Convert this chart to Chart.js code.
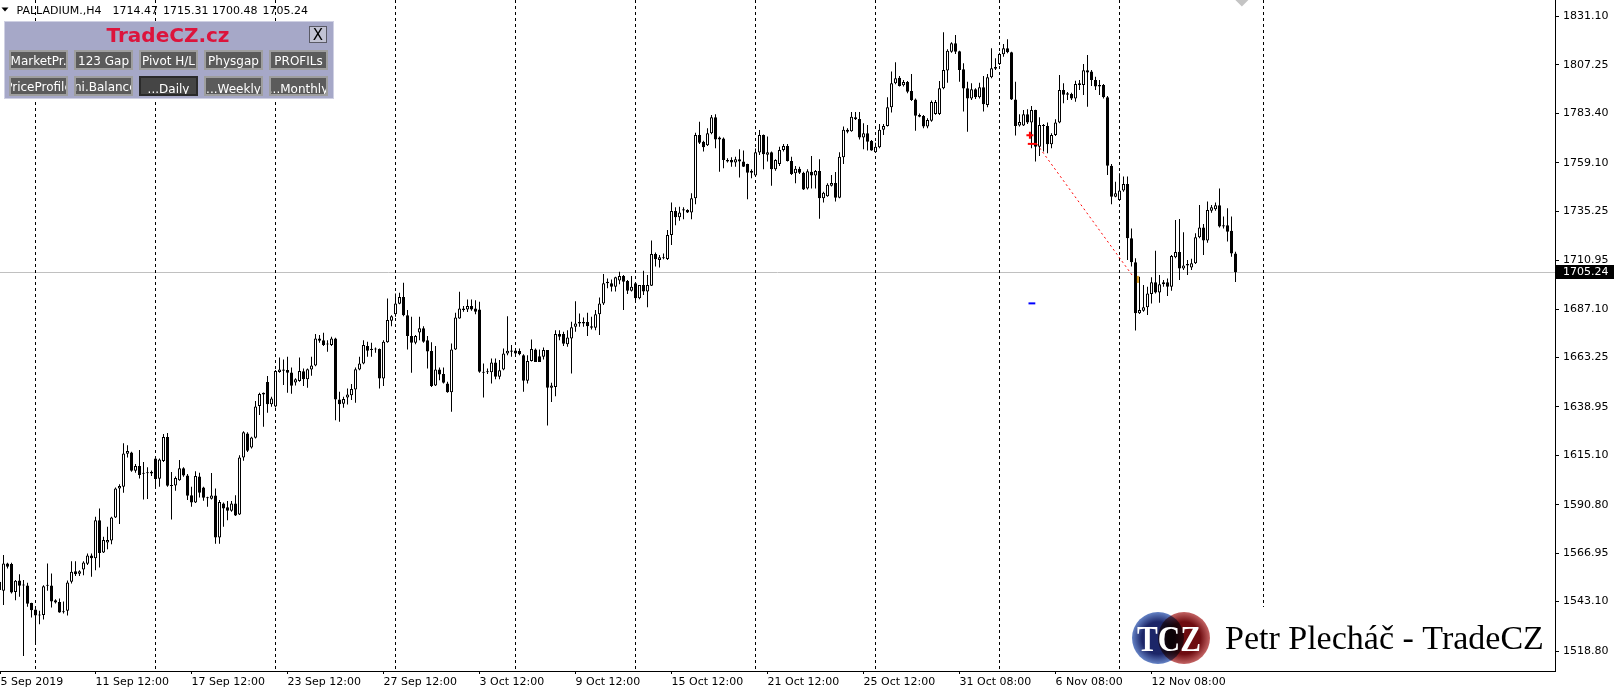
<!DOCTYPE html>
<html>
<head>
<meta charset="utf-8">
<script src="https://cdn.jsdelivr.net/npm/chart.js@4"></script>
<style>
  html, body { margin: 0; padding: 0; background: #fff; overflow: hidden; }
  canvas { display: block; }
</style>
</head>
<body>
<canvas id="chart" width="1616" height="691"></canvas>
<script>
// PALLADIUM H4, one value per bar (bar 0 = 5 Sep 2019 12:00)
const opens = [
  1552.9,1548.4,1561.9,1561.6,1547.9,1553.5,1551.2,1551.1,1542.4,1539.2,
  1536.3,1536.5,1550.9,1551.1,1543.8,1542.9,1537.9,1538.6,1552.9,1558.0,
  1556.8,1558.9,1561.7,1565.8,1564.4,1583.2,1567.3,1572.2,1573.2,1584.5,
  1598.8,1599.6,1615.9,1616.5,1607.5,1609.8,1606.0,1606.4,1606.2,1613.6,
  1603.6,1612.3,1624.1,1600.3,1600.3,1602.8,1608.7,1605.2,1595.5,1591.9,
  1604.7,1599.3,1594.2,1593.7,1595.4,1574.7,1591.4,1589.6,1587.8,1591.4,
  1586.0,1614.1,1625.9,1619.0,1623.8,1639.4,1645.9,1651.2,1640.2,1639.2,
  1656.1,1657.4,1657.1,1655.9,1651.0,1651.7,1656.5,1652.6,1657.4,1659.3,
  1672.6,1671.8,1669.6,1669.4,1672.6,1642.6,1640.5,1643.6,1644.7,1647.5,
  1657.4,1660.3,1668.9,1667.0,1667.2,1667.4,1652.9,1670.8,1681.3,1684.5,
  1689.7,1693.1,1684.1,1673.8,1670.5,1675.6,1677.6,1671.7,1666.4,1649.5,
  1657.4,1655.1,1650.5,1646.1,1667.2,1682.5,1687.4,1686.9,1688.6,1687.4,
  1686.9,1656.2,1656.0,1656.0,1660.8,1653.8,1657.4,1665.2,1666.1,1666.7,
  1666.4,1664.4,1651.8,1661.5,1667.2,1663.9,1663.6,1666.9,1648.4,1648.8,
  1674.8,1674.8,1669.8,1672.6,1678.4,1680.0,1680.7,1680.7,1678.7,1677.9,
  1684.5,1689.9,1699.8,1699.8,1698.1,1701.2,1703.4,1700.9,1696.1,1699.8,
  1692.4,1698.9,1695.7,1698.6,1714.2,1711.2,1712.6,1711.8,1723.6,1735.4,
  1732.3,1735.6,1735.9,1734.6,1741.6,1772.8,1769.5,1767.7,1773.6,1781.5,
  1771.6,1771.1,1760.5,1760.5,1759.2,1760.8,1759.7,1758.5,1755.2,1752.9,
  1764.1,1772.8,1763.1,1764.3,1755.9,1758.5,1765.4,1767.4,1760.0,1753.9,
  1756.2,1754.2,1746.5,1754.7,1752.8,1755.1,1741.6,1742.6,1747.8,1749.2,
  1741.9,1761.8,1774.4,1774.6,1781.5,1780.7,1771.6,1773.6,1769.8,1764.3,
  1766.7,1775.3,1777.2,1786.4,1798.2,1801.0,1797.2,1798.9,1794.4,1790.3,
  1782.6,1782.1,1776.9,1779.8,1783.1,1783.1,1795.8,1804.5,1813.8,1817.9,
  1814.0,1805.1,1795.8,1790.7,1795.3,1791.3,1796.3,1787.6,1801.2,1805.4,
  1807.7,1812.5,1815.5,1813.5,1790.3,1777.4,1777.5,1783.0,1778.9,1785.1,
  1767.0,1777.7,1777.2,1768.2,1772.8,1778.9,1794.9,1793.3,1793.0,1790.7,
  1797.4,1797.4,1804.6,1804.0,1799.9,1797.4,1797.4,1791.3,1757.7,1742.4,
  1740.8,1745.4,1748.7,1721.9,1710.1,1685.0,1686.3,1688.0,1694.5,1700.3,
  1695.2,1699.3,1700.3,1698.1,1712.6,1715.2,1707.1,1708.5,1707.6,1709.6,
  1722.4,1727.3,1720.8,1735.5,1736.2,1738.2,1728.3,1728.3,1725.7,1714.47
];
const highs = [
  1553.7,1566.0,1562.2,1562.2,1553.7,1556.6,1553.7,1552.4,1542.6,1539.4,
  1538.6,1551.2,1561.9,1557.0,1544.3,1544.7,1543.2,1553.5,1563.0,1563.0,
  1558.6,1563.0,1566.8,1566.8,1584.9,1589.0,1575.0,1579.9,1584.9,1599.3,
  1600.9,1621.0,1620.1,1616.9,1610.8,1617.7,1611.8,1609.3,1607.7,1614.1,
  1613.6,1625.6,1626.1,1606.9,1604.7,1612.8,1609.3,1605.9,1599.6,1607.3,
  1606.5,1599.6,1594.7,1606.4,1598.8,1593.1,1591.9,1592.6,1592.6,1595.5,
  1615.2,1627.0,1626.5,1624.2,1641.8,1645.9,1646.0,1654.1,1644.0,1657.1,
  1663.3,1662.3,1663.6,1658.4,1653.0,1663.3,1657.9,1657.9,1663.6,1674.8,
  1674.3,1675.4,1671.8,1673.5,1673.0,1646.4,1643.9,1648.0,1650.2,1658.4,
  1663.6,1671.8,1671.0,1670.5,1668.2,1667.7,1671.8,1692.3,1684.1,1694.8,
  1695.1,1700.0,1686.6,1683.3,1674.3,1683.3,1678.7,1673.8,1670.8,1668.9,
  1658.4,1658.4,1651.3,1670.2,1685.3,1695.6,1688.6,1691.8,1691.8,1691.5,
  1690.7,1660.3,1657.9,1662.8,1662.8,1662.0,1667.7,1683.6,1669.4,1667.7,
  1667.7,1664.9,1664.4,1672.1,1667.7,1667.2,1668.2,1667.0,1650.8,1676.7,
  1676.7,1675.9,1676.7,1680.8,1691.0,1684.9,1683.0,1685.3,1683.3,1686.6,
  1692.8,1704.4,1702.2,1701.7,1703.0,1705.5,1703.9,1701.4,1703.4,1699.9,
  1699.0,1706.0,1703.9,1720.8,1714.9,1713.7,1714.5,1726.0,1739.5,1737.2,
  1737.5,1737.2,1736.2,1744.1,1773.9,1779.3,1770.0,1776.1,1782.6,1783.0,
  1772.0,1771.5,1761.3,1761.8,1762.1,1765.7,1765.1,1758.6,1755.9,1766.1,
  1775.2,1773.0,1772.0,1764.6,1760.8,1767.0,1768.4,1768.4,1762.1,1757.5,
  1757.2,1754.7,1755.9,1762.4,1755.6,1760.8,1744.9,1749.0,1753.1,1754.6,
  1764.3,1776.9,1776.1,1784.1,1784.1,1784.1,1778.5,1777.7,1770.3,1769.0,
  1778.2,1778.2,1791.3,1804.0,1808.6,1801.8,1799.9,1799.4,1802.8,1790.8,
  1783.4,1782.6,1781.0,1789.7,1790.0,1799.4,1823.3,1815.0,1818.4,1822.0,
  1814.3,1808.1,1799.0,1798.2,1795.8,1798.5,1801.8,1802.8,1815.5,1810.5,
  1813.3,1817.6,1819.9,1813.8,1799.0,1783.0,1785.1,1785.4,1787.1,1785.2,
  1781.5,1778.2,1778.9,1773.6,1780.5,1802.3,1798.2,1793.9,1793.6,1799.5,
  1799.9,1807.7,1812.2,1804.8,1801.5,1799.9,1797.9,1792.0,1758.5,1749.8,
  1753.9,1752.3,1752.3,1726.8,1712.1,1703.0,1698.9,1698.1,1702.7,1715.8,
  1703.9,1701.4,1702.2,1713.7,1730.9,1731.4,1724.9,1711.2,1711.9,1724.4,
  1738.3,1729.0,1740.0,1738.3,1739.5,1746.5,1732.6,1736.7,1732.6,1715.31
];
const lows = [
  1541.4,1541.4,1559.4,1547.1,1543.8,1545.5,1516.3,1540.6,1535.3,1522.5,
  1532.0,1534.3,1548.4,1540.2,1542.2,1537.6,1537.3,1536.3,1552.0,1555.7,
  1555.7,1556.1,1561.1,1555.3,1558.6,1559.9,1567.0,1568.9,1571.4,1584.3,
  1581.3,1596.7,1614.1,1607.0,1606.5,1603.7,1593.4,1593.6,1604.9,1598.8,
  1599.6,1611.8,1599.6,1583.5,1597.7,1602.6,1604.6,1593.1,1589.8,1591.7,
  1594.4,1592.7,1589.8,1593.4,1571.6,1571.6,1579.9,1583.2,1587.3,1585.3,
  1585.8,1612.4,1616.7,1618.5,1623.4,1634.9,1629.2,1636.1,1639.0,1638.7,
  1655.8,1649.7,1645.9,1645.4,1649.5,1651.3,1649.2,1648.4,1654.3,1659.0,
  1670.5,1668.9,1666.1,1668.9,1632.4,1631.6,1638.5,1640.1,1642.3,1641.0,
  1657.0,1660.0,1663.6,1663.6,1665.6,1648.0,1649.2,1670.5,1678.7,1683.3,
  1689.5,1683.6,1667.2,1655.7,1669.8,1671.8,1670.5,1657.9,1648.8,1649.2,
  1652.1,1650.5,1645.9,1636.5,1666.9,1682.3,1685.8,1685.6,1686.3,1684.6,
  1655.7,1643.6,1655.1,1650.5,1652.5,1652.5,1657.0,1664.4,1663.6,1664.1,
  1664.4,1646.4,1650.5,1661.3,1661.0,1661.0,1662.3,1629.8,1641.3,1644.2,
  1671.8,1668.9,1668.5,1655.4,1675.9,1678.4,1678.4,1673.8,1677.1,1676.7,
  1674.3,1689.1,1697.3,1695.7,1695.7,1699.3,1686.6,1694.5,1695.7,1690.7,
  1691.9,1694.0,1688.0,1698.4,1708.0,1707.6,1711.6,1711.2,1718.6,1728.3,
  1730.6,1731.3,1734.4,1731.3,1738.7,1768.4,1764.7,1767.4,1773.1,1766.2,
  1754.7,1756.4,1759.2,1757.2,1757.2,1751.9,1757.0,1741.1,1751.5,1752.8,
  1762.9,1755.9,1759.7,1747.8,1755.2,1757.5,1764.6,1759.7,1753.1,1749.0,
  1753.6,1745.7,1746.0,1746.5,1746.5,1731.6,1739.5,1742.4,1747.4,1740.0,
  1741.6,1758.5,1773.6,1774.4,1780.2,1770.6,1765.7,1765.1,1765.0,1764.1,
  1766.2,1772.8,1776.9,1783.8,1797.7,1796.6,1796.6,1793.3,1789.5,1774.9,
  1781.5,1776.1,1776.1,1779.3,1782.8,1782.6,1795.3,1798.5,1813.3,1812.7,
  1799.0,1784.3,1774.4,1790.0,1790.5,1790.8,1784.3,1786.4,1800.7,1804.8,
  1807.2,1811.3,1813.0,1790.0,1772.5,1776.9,1777.2,1778.2,1766.2,1759.7,
  1762.4,1764.6,1763.8,1766.2,1772.3,1778.5,1788.4,1790.0,1790.0,1789.2,
  1794.9,1792.5,1786.7,1796.9,1794.9,1792.5,1790.7,1753.1,1738.7,1742.1,
  1740.5,1744.9,1711.2,1708.0,1676.5,1684.7,1685.8,1684.2,1689.9,1694.8,
  1690.2,1698.1,1693.5,1696.1,1712.1,1701.4,1706.3,1703.9,1706.3,1709.3,
  1721.9,1713.7,1719.8,1734.5,1735.5,1727.3,1726.8,1720.3,1712.9,1700.48
];
const closes = [
  1548.8,1561.9,1560.3,1547.6,1553.4,1550.9,1551.0,1542.0,1538.9,1536.3,
  1536.6,1550.7,1551.2,1543.2,1542.7,1537.8,1538.1,1552.5,1557.8,1556.6,
  1558.0,1562.4,1565.8,1564.5,1583.2,1567.1,1573.4,1573.4,1584.5,1598.8,
  1600.0,1616.0,1617.2,1607.5,1609.8,1605.4,1606.1,1606.3,1607.0,1603.4,
  1613.1,1624.1,1600.1,1600.0,1603.9,1608.7,1605.2,1595.2,1591.9,1604.9,
  1596.7,1594.2,1594.0,1595.4,1574.7,1592.1,1589.0,1587.8,1591.4,1585.5,
  1614.1,1626.5,1617.4,1623.9,1639.2,1645.3,1645.1,1640.2,1643.1,1656.6,
  1657.4,1656.8,1655.8,1649.4,1652.5,1656.6,1652.5,1657.5,1659.3,1672.6,
  1671.5,1669.4,1669.7,1672.6,1642.6,1640.3,1642.8,1645.1,1647.7,1657.5,
  1660.3,1669.4,1666.6,1667.6,1667.3,1652.9,1671.0,1681.7,1683.6,1689.9,
  1693.1,1684.1,1673.9,1670.5,1673.8,1677.6,1671.0,1666.2,1649.2,1657.4,
  1654.9,1650.8,1646.1,1667.2,1683.0,1687.4,1686.6,1688.6,1686.9,1685.8,
  1656.2,1655.7,1656.1,1660.8,1653.8,1657.0,1665.2,1666.6,1666.7,1665.2,
  1664.8,1651.8,1661.5,1667.4,1661.1,1661.1,1666.9,1648.4,1649.5,1674.8,
  1673.5,1670.0,1673.1,1678.1,1680.0,1680.7,1680.0,1678.7,1677.9,1684.5,
  1689.9,1699.8,1700.6,1698.1,1702.7,1703.4,1700.6,1696.1,1698.1,1692.4,
  1698.9,1695.7,1698.9,1714.2,1711.6,1712.6,1712.1,1723.6,1735.4,1732.3,
  1734.6,1736.2,1734.6,1741.6,1772.8,1769.0,1766.7,1773.6,1781.5,1770.6,
  1770.6,1760.5,1759.7,1759.2,1760.8,1759.7,1757.2,1754.2,1754.2,1764.3,
  1772.8,1763.3,1764.3,1755.9,1760.5,1765.4,1767.4,1760.0,1753.6,1756.2,
  1754.2,1746.0,1754.9,1752.8,1755.1,1741.6,1744.4,1748.3,1749.2,1741.9,
  1762.1,1775.3,1775.3,1781.8,1780.5,1771.5,1773.6,1769.5,1765.1,1767.0,
  1775.3,1777.2,1786.4,1798.2,1800.7,1796.9,1798.9,1794.1,1790.0,1782.3,
  1781.8,1776.9,1780.2,1789.0,1789.0,1795.8,1804.8,1814.3,1817.9,1813.8,
  1804.8,1795.6,1790.7,1795.3,1791.3,1796.3,1787.9,1801.2,1805.6,1806.3,
  1812.7,1815.5,1813.5,1790.3,1777.2,1779.2,1783.0,1778.9,1785.1,1767.0,
  1777.7,1777.2,1768.2,1772.8,1778.9,1794.9,1792.6,1792.6,1790.7,1797.9,
  1798.2,1804.6,1803.5,1799.9,1796.6,1796.6,1791.3,1757.7,1742.4,1744.1,
  1745.4,1748.7,1721.9,1710.1,1685.0,1686.6,1688.0,1694.8,1700.3,1695.2,
  1699.3,1700.3,1698.1,1713.2,1715.2,1707.1,1708.5,1709.3,1709.6,1722.4,
  1727.3,1720.8,1735.9,1737.2,1738.2,1727.7,1727.7,1725.2,1714.5,1705.24
];

// axis ticks
const priceTicks = [1831.10, 1807.25, 1783.40, 1759.10, 1735.25, 1710.95, 1687.10,
  1663.25, 1638.95, 1615.10, 1590.80, 1566.95, 1543.10, 1518.80];
const timeTickBars = [0.25, 24, 48, 72, 96, 120, 144, 168, 192, 216, 240, 264, 288];
const timeTickLabels = ['5 Sep 2019', '11 Sep 12:00', '17 Sep 12:00', '23 Sep 12:00',
  '27 Sep 12:00', '3 Oct 12:00', '9 Oct 12:00', '15 Oct 12:00', '21 Oct 12:00',
  '25 Oct 12:00', '31 Oct 08:00', '6 Nov 08:00', '12 Nov 08:00'];
// weekly period separators (bar index)
const weekSeparators = [9, 39, 69, 99, 129, 159, 189, 219, 250, 280, 316];
const bidPrice = 1705.24;
const shiftBar = 310.6;

// trade history objects
const tradeLineBars = [259.3, 283.3];
const tradeLinePrices = [1768.4, 1703.4];
const openArrow = { x: 257.6, y: 1772.6 };
const openDash = { x: 258.2, y: 1768.4 };
const closeMark = { x: 284.6, y: 1701.7 };
const blueDash = { x: 258.1, y: 1689.9 };

const headerName = 'PALLADIUM.,H4';
const headerValues = ['1714.47', '1715.31', '1700.48', '1705.24'];
const panelTitle = 'TradeCZ.cz';
const panelButtons = [
  ['MarketPr.', '123 Gap', 'Pivot H/L', 'Physgap', 'PROFILs'],
  ['PriceProfile', 'Ini.Balance', '...Daily', '...Weekly', '...Monthly']
];
const logoText = 'Petr Plecháč - TradeCZ';

Chart.defaults.font.family = '"DejaVu Sans", Verdana, sans-serif';
Chart.defaults.font.size = 11;

const wickData = lows.map((l, i) => ({ x: i, y: [l, highs[i]] }));
const bodyData = opens.map((o, i) => ({ x: i, y: [o, closes[i]] }));
const bodyFill = opens.map((o, i) => closes[i] >= o ? '#ffffff' : '#000000');

const decor = {
  id: 'decor',
  beforeDatasetsDraw(chart) {
    const { ctx, chartArea: a, scales: { x, y } } = chart;
    ctx.save();
    ctx.beginPath();
    ctx.rect(a.left, a.top, a.right - a.left, a.bottom - a.top);
    ctx.clip();

    // bid line
    const by = Math.round(y.getPixelForValue(bidPrice)) + 0.5;
    ctx.strokeStyle = '#c0c0c0';
    ctx.lineWidth = 1;
    ctx.beginPath();
    ctx.moveTo(a.left, by);
    ctx.lineTo(a.right, by);
    ctx.stroke();

    // period separators
    ctx.strokeStyle = '#000';
    ctx.setLineDash([3, 3]);
    weekSeparators.forEach(b => {
      const px = Math.round(x.getPixelForValue(b) - 0.5) + 0.5;
      ctx.beginPath();
      ctx.moveTo(px, a.top);
      ctx.lineTo(px, a.bottom);
      ctx.stroke();
    });
    ctx.setLineDash([]);

    // header text
    ctx.fillStyle = '#000';
    ctx.beginPath();
    ctx.moveTo(1.5, 7.5);
    ctx.lineTo(8.5, 7.5);
    ctx.lineTo(5, 11.5);
    ctx.closePath();
    ctx.fill();
    ctx.font = '11px "DejaVu Sans"';
    ctx.textBaseline = 'alphabetic';
    ctx.textAlign = 'left';
    ctx.fillText(headerName, 16.5, 14);
    const hx = [112.5, 163, 212, 262.5];
    headerValues.forEach((t, i) => ctx.fillText(t, hx[i], 14));
    ctx.restore();
  },
  afterDraw(chart) {
    const { ctx, chartArea: a, scales: { x, y } } = chart;
    ctx.save();

    // chart shift marker
    const sx = x.getPixelForValue(shiftBar);
    ctx.fillStyle = '#c4c4c4';
    ctx.beginPath();
    ctx.moveTo(sx - 6.5, 0);
    ctx.lineTo(sx + 6.5, 0);
    ctx.lineTo(sx, 6.5);
    ctx.closePath();
    ctx.fill();

    // bid label on the price axis
    const by = Math.round(y.getPixelForValue(bidPrice));
    ctx.fillStyle = '#000';
    ctx.fillRect(a.right + 1, by - 7, 58, 14);
    ctx.fillStyle = '#fff';
    ctx.font = '11px "DejaVu Sans"';
    ctx.textBaseline = 'middle';
    ctx.textAlign = 'left';
    ctx.fillText(bidPrice.toFixed(2), a.right + 8, by + 0.5);

    // TradeCZ panel
    ctx.fillStyle = '#a6a8c8';
    ctx.fillRect(4, 21, 330, 78);
    ctx.strokeStyle = '#cfd0e3';
    ctx.lineWidth = 1;
    ctx.strokeRect(4.5, 21.5, 329, 77);
    ctx.font = 'bold 20px "DejaVu Sans"';
    ctx.fillStyle = '#dc143c';
    ctx.textAlign = 'center';
    ctx.textBaseline = 'alphabetic';
    ctx.fillText(panelTitle, 168, 42, 124);

    // close button
    ctx.fillStyle = '#c2c3d4';
    ctx.fillRect(309, 26, 18, 17);
    ctx.strokeStyle = '#5a5a66';
    ctx.strokeRect(309.5, 26.5, 17, 16);
    ctx.fillStyle = '#000';
    ctx.font = '15px "DejaVu Sans"';
    ctx.fillText('X', 318, 40);

    panelButtons.forEach((row, r) => {
      row.forEach((label, c) => {
        const bx = 9 + c * 65;
        const by2 = r === 0 ? 50 : 76;
        const pressed = label === '...Daily';
        ctx.fillStyle = pressed ? '#454545' : '#5b5b5b';
        ctx.fillRect(bx, by2, 59, 20);
        ctx.lineWidth = 2;
        ctx.strokeStyle = pressed ? '#2a2a2a' : '#9e9e9e';
        ctx.strokeRect(bx + 1, by2 + 1, 57, 18);
        ctx.save();
        ctx.beginPath();
        ctx.rect(bx + 2, by2 + 2, 55, 16);
        ctx.clip();
        ctx.fillStyle = '#fff';
        ctx.font = '12px "DejaVu Sans"';
        ctx.textAlign = 'center';
        const shiftDown = (r === 1 && c >= 2) ? 2.5 : 0;
        ctx.fillText(label, bx + 29.5, by2 + 14.5 + shiftDown);
        ctx.restore();
      });
    });
    ctx.lineWidth = 1;

    // logo
    ctx.fillStyle = '#fff';
    ctx.fillRect(1124, 607, a.right - 1124 - 1, a.bottom - 607 - 1);
    const circle = (cx, cy, r, c0, c1) => {
      const g = ctx.createRadialGradient(cx, cy, 0, cx, cy, r);
      g.addColorStop(0, c0);
      g.addColorStop(0.62, c0);
      g.addColorStop(1, c1);
      ctx.fillStyle = g;
      ctx.beginPath();
      ctx.arc(cx, cy, r, 0, Math.PI * 2);
      ctx.fill();
    };
    circle(1158, 638, 26, '#1c2668', '#6583c6');
    ctx.globalCompositeOperation = 'multiply';
    circle(1184, 638, 26, '#6e0c10', '#c46464');
    ctx.globalCompositeOperation = 'source-over';
    ctx.fillStyle = '#fff';
    ctx.font = 'bold 36px "Liberation Serif", serif';
    ctx.textAlign = 'center';
    ctx.fillText('TCZ', 1169, 651, 64);
    ctx.fillStyle = '#000';
    ctx.font = '34px "Liberation Serif", serif';
    ctx.textAlign = 'left';
    ctx.fillText(logoText, 1225, 649, 322);

    ctx.restore();
  }
};

new Chart(document.getElementById('chart'), {
  type: 'bar',
  data: {
    datasets: [
      {
        type: 'line',
        data: tradeLineBars.map((b, i) => ({ x: b, y: tradeLinePrices[i] })),
        borderColor: '#ff0000',
        borderWidth: 1,
        borderDash: [2, 3],
        pointRadius: 0,
        order: 0
      },
      {
        type: 'line',
        data: [openArrow, openDash, closeMark, blueDash],
        showLine: false,
        pointStyle: ['cross', 'line', 'line', 'line'],
        rotation: [0, 0, 90, 0],
        pointRadius: [3.5, 4.5, 3.5, 3.4],
        borderWidth: 2,
        pointBorderColor: ['#ff0000', '#ff0000', '#e0a020', '#0000ff'],
        pointBackgroundColor: ['#ff0000', '#ff0000', '#e0a020', '#0000ff'],
        order: 0
      },
      {
        label: 'body',
        data: bodyData,
        backgroundColor: bodyFill,
        borderColor: '#000',
        borderWidth: 1,
        borderSkipped: false,
        inflateAmount: 0,
        barThickness: 3,
        minBarLength: 1,
        grouped: false,
        order: 1
      },
      {
        label: 'wick',
        data: wickData,
        backgroundColor: '#000',
        borderWidth: 0,
        inflateAmount: 0,
        barThickness: 1,
        grouped: false,
        order: 2
      }
    ]
  },
  options: {
    responsive: false,
    animation: false,
    devicePixelRatio: 1,
    events: [],
    layout: { padding: 0, autoPadding: false },
    plugins: { legend: { display: false }, tooltip: { enabled: false } },
    scales: {
      x: {
        type: 'linear',
        position: 'bottom',
        min: 0.125,
        max: 388.875,
        offset: false,
        grid: { offset: false, drawOnChartArea: false, drawTicks: true, tickLength: 3, color: '#000' },
        border: { display: true, color: '#000' },
        ticks: {
          autoSkip: false, maxRotation: 0, minRotation: 0, align: 'start', padding: 2,
          color: '#000', font: { size: 11 },
          callback: (v, i) => timeTickLabels[i]
        },
        afterBuildTicks: s => { s.ticks = timeTickBars.map(v => ({ value: v })); },
        afterFit: s => { s.height = 20; s.paddingLeft = 0; s.paddingRight = 0; }
      },
      y: {
        type: 'linear',
        position: 'right',
        min: 1508.96,
        max: 1839.22,
        grid: { drawOnChartArea: false, drawTicks: true, tickLength: 4, color: '#000' },
        border: { display: true, color: '#000' },
        ticks: {
          padding: 4, color: '#000', font: { size: 11 },
          callback: v => v.toFixed(2)
        },
        afterBuildTicks: s => { s.ticks = priceTicks.map(v => ({ value: v })); },
        afterFit: s => { s.width = 61; s.paddingTop = 0; s.paddingBottom = 0; }
      }
    }
  },
  plugins: [decor]
});
</script>
</body>
</html>
